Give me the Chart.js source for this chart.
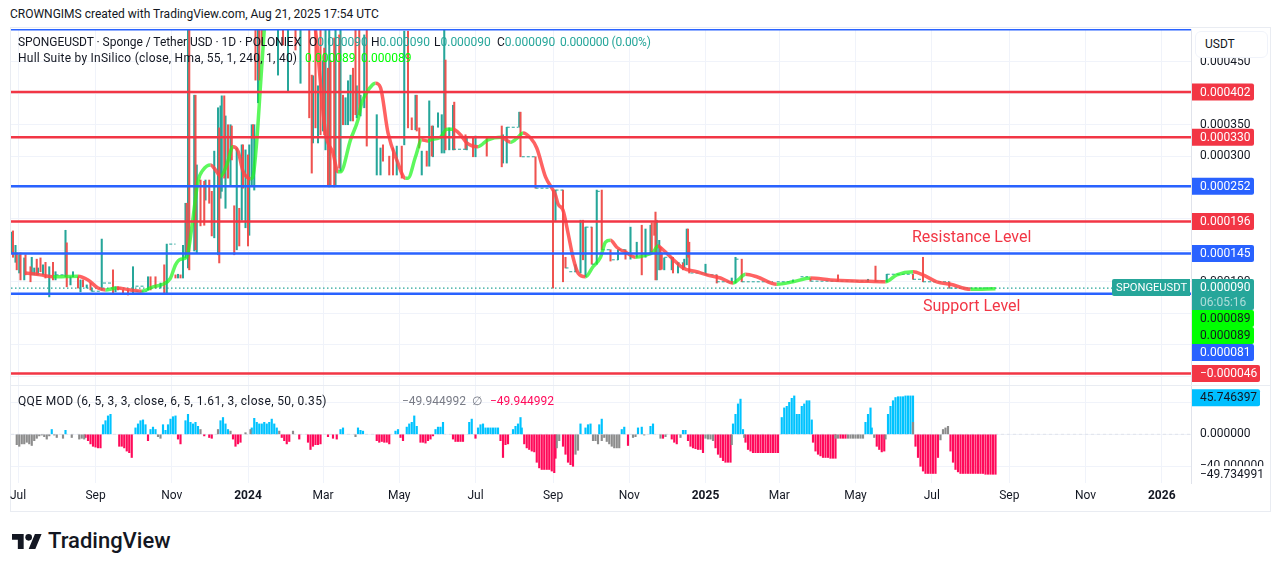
<!DOCTYPE html>
<html><head><meta charset="utf-8">
<style>
html,body{margin:0;padding:0;background:#fff;width:1281px;height:571px;overflow:hidden;font-family:Roboto,sans-serif;font-size:12px;color:#131722}
canvas{position:absolute;left:0}
.t{position:absolute;white-space:nowrap;line-height:14px}
.f{position:absolute;background:#e9ecf2}
.val{color:#26a69a}.lime{color:#00ff00}
.ann{color:#f23645;font-size:16px;line-height:18px}
#usdt{position:absolute;left:1195px;top:31px;width:71px;height:25px;background:#fff;border:1px solid #f0f3fa;border-radius:6px;line-height:25px;text-indent:9px}
</style></head><body>
<div class="f" style="left:10px;top:27px;width:1261px;height:1px"></div>
<div class="f" style="left:10px;top:511px;width:1261px;height:1px"></div>
<div class="f" style="left:10px;top:27px;width:1px;height:485px"></div>
<div class="f" style="left:1270px;top:27px;width:1px;height:485px"></div>
<div class="f" style="left:10px;top:385px;width:1261px;height:1px"></div>
<canvas id="priceCanvas" width="1281" height="358" style="top:27px"></canvas>
<canvas id="qqeCanvas" width="1281" height="128" style="top:384px"></canvas>
<div class="t" style="left:10px;top:7px">CROWNGIMS created with TradingView.com, Aug 21, 2025 17:54 UTC</div>
<div class="t" style="left:18px;top:35px;letter-spacing:-.04px">SPONGEUSDT · Sponge / Tether USD · 1D · POLONIEX</div>
<div class="t" style="left:309px;top:35px">O<span class="val">0.000090</span></div>
<div class="t" style="left:371px;top:35px">H<span class="val">0.000090</span></div>
<div class="t" style="left:434px;top:35px">L<span class="val">0.000090</span></div>
<div class="t" style="left:497px;top:35px">C<span class="val">0.000090</span></div>
<div class="t val" style="left:560px;top:35px;letter-spacing:-.2px">0.000000 (0.00%)</div>
<div class="t" style="left:18px;top:51px;letter-spacing:.24px">Hull Suite by InSilico (close, Hma, 55, 1, 240, 1, 40)</div>
<div class="t lime" style="left:305px;top:51px">0.000089</div>
<div class="t lime" style="left:361px;top:51px">0.000089</div>
<div class="t" style="left:18px;top:394px;letter-spacing:.36px">QQE MOD (6, 5, 3, 3, close, 6, 5, 1.61, 3, close, 50, 0.35)</div>
<div class="t" style="left:402px;top:394px;color:#787b86">−49.944992</div>
<div class="t" style="left:472px;top:394px;color:#787b86">∅</div>
<div class="t" style="left:490px;top:394px;color:#ff0a5a">−49.944992</div>
<div class="t ann" style="left:912px;top:228px">Resistance Level</div>
<div class="t ann" style="left:923px;top:297px">Support Level</div>
<div id="usdt">USDT</div>
<svg style="position:absolute;left:12px;top:534px" width="30" height="15" viewBox="0 4 36 18"><path fill="#131722" d="M14 22H7V11H0V4h14v18zM28 22h-8l7.5-18h8L28 22z"/><circle fill="#131722" cx="20" cy="8" r="4"/></svg>
<div class="t" style="left:48px;top:530px;font-size:22px;line-height:22px;font-weight:500;color:#131722">TradingView</div>
<script src="https://cdn.jsdelivr.net/npm/chart.js@4/dist/chart.umd.min.js"></script>
<script>
// Time axis: days since 1 Jul 2023. Prices are in millionths of USDT.
const tickDays   = [0,62,123,184,244,305,366,428,489,550,609,670,731,793,854,915];
const tickLabels = ['Jul','Sep','Nov','2024','Mar','May','Jul','Sep','Nov','2025','Mar','May','Jul','Sep','Nov','2026'];
const priceTicks = [450,400,350,300,250,200,150,100,50,0,-50];
const hiddenPriceLabels = [150];
const qqeTicks   = [40,0,-40];

const redLevels  = [402,330,196,-46];
const blueLevels = [252,145,81];
const topBlueLevel = 502;
const lastPrice = 90;
const hullLast = 89;

// [day, high, low]
const upCandles = [[-5,179,146],[-2,158,131],[1,143,114],[5,138,103],[11,139,111],[13,122,111],[16,122,111],[20,127,111],[25,124,76],[30,116,103],[38,182,108],[42,108,95],[44,116,108],[50,103,84],[55,95,90],[59,90,85],[67,168,87],[78,92,84],[92,124,82],[104,108,87],[114,98,90],[119,160,82],[128,112,106],[132,158,106],[134,225,138],[136,520,122],[141,397,149],[143,286,146],[150,262,230],[157,308,170],[160,377,143],[162,380,233],[163,396,244],[166,364,217],[170,350,252],[175,313,151],[179,318,198],[182,310,186],[185,318,174],[187,350,254],[189,350,246],[192,520,385],[208,520,429],[216,520,404],[226,520,416],[236,428,321],[240,412,321],[244,452,340],[246,520,310],[249,520,251],[254,520,254],[258,520,276],[262,393,350],[264,420,350],[266,429,356],[271,412,361],[274,397,364],[277,493,377],[287,366,270],[290,313,270],[303,316,270],[309,499,318],[318,397,342],[323,308,270],[329,388,284],[332,348,299],[336,369,346],[339,366,305],[341,520,305],[345,345,310],[348,381,310],[359,330,310],[366,332,299],[388,334,289],[391,346,289],[401,370,346],[430,246,197],[446,127,116],[450,198,114],[454,187,108],[463,246,128],[480,151,135],[490,187,136],[495,163,139],[502,184,139],[506,190,143],[511,198,103],[513,166,119],[517,138,119],[523,139,119],[528,130,114],[533,136,122],[535,184,127],[550,128,112],[571,106,98],[574,139,98],[620,103,100],[680,104,100],[695,112,100]];
const downCandles = [[-4,181,139],[-1,146,119],[2,146,103],[6,143,111],[10,124,100],[15,136,111],[18,138,116],[22,131,106],[28,131,103],[39,162,92],[48,108,90],[52,103,92],[58,98,87],[76,119,82],[80,92,87],[84,87,82],[88,87,79],[106,108,87],[110,108,90],[117,127,80],[126,111,106],[130,111,106],[135,225,143],[137,520,119],[142,397,151],[146,262,189],[149,260,190],[153,262,225],[155,244,173],[161,345,130],[165,396,265],[168,350,265],[171,348,294],[173,221,143],[177,217,157],[180,318,249],[184,302,157],[188,350,329],[190,520,421],[193,520,421],[195,520,477],[212,520,477],[222,520,469],[233,520,361],[235,429,273],[238,520,345],[242,520,334],[245,472,334],[248,440,252],[250,452,254],[253,488,251],[257,493,281],[260,397,350],[268,440,356],[270,520,366],[273,520,366],[279,520,316],[292,318,292],[297,300,270],[300,313,270],[307,316,265],[312,499,345],[315,361,342],[319,397,340],[321,345,313],[327,308,284],[331,348,300],[342,453,310],[349,386,310],[358,334,311],[364,330,299],[375,329,300],[387,348,283],[402,370,299],[414,299,249],[428,246,90],[436,246,100],[438,139,122],[452,198,135],[459,187,128],[467,246,151],[474,151,133],[486,151,136],[499,190,111],[507,194,147],[509,194,174],[510,211,103],[514,155,119],[515,146,120],[524,139,114],[532,130,119],[536,184,139],[537,163,114],[559,111,98],[579,136,100],[634,106,101],[656,111,101],[686,125,100],[716,112,104],[724,139,100],[745,100,90]];
// flat stretches of near-doji candles: [first day, last day, level]
const flatRuns = [[30,38,111],[59,67,85],[68,75,98],[94,102,93],[94,103,85],[121,126,160],[348,359,311],[367,387,330],[391,400,346],[403,414,299],[414,426,249],[430,436,246],[438,441,122],[441,447,116],[454,459,187],[459,463,128],[463,467,244],[467,474,151],[475,480,135],[480,486,151],[517,523,139],[527,532,130],[538,550,114],[550,559,111],[559,572,100],[574,578,136],[579,604,100],[607,620,100],[626,632,108],[634,650,101],[650,680,101],[686,695,101],[695,716,112],[716,724,104],[724,745,100],[745,782,90]];

const hullDays = [6,18,28,48,56,64,70,79,90,99,108,116,122,126,130,135,139,144,148,154,158,162,167,172,176,180,186,188,191,194,197,202,218,230,238,246,252,256,258,266,272,275,282,286,290,296,303,310,312,318,323,328,330,338,343,348,354,359,368,376,387,394,400,404,410,415,422,430,432,436,440,444,448,454,460,466,470,474,479,487,494,503,508,512,516,524,532,543,551,562,572,576,582,591,607,620,634,650,676,694,703,716,724,735,746,762,782];
const hullValues = [114,111,108,109,103,90,87,90,87,85,92,96,106,127,136,139,186,260,278,286,278,268,286,315,308,276,264,268,324,413,501,628,692,596,501,337,305,275,275,326,358,385,410,416,409,337,294,265,265,299,326,324,326,330,343,343,334,321,315,326,330,322,330,337,329,313,267,238,224,214,178,139,114,108,124,139,163,166,155,146,139,143,147,157,151,136,122,116,111,106,98,103,112,108,96,100,106,103,101,100,111,116,111,100,96,88,89];

// QQE histogram: [start day, values every second day]
const qqeGrey = [[-1,[-13,-15,-12,-12,-10,-12,-14,-8,-5,-2,-1,-3,-6,-2]],[29,[-1,-4]],[36,[-5]],[43,[-4]],[49,[-6,-5,-6]],[112,[-3,-5]],[146,[6]],[160,[6]],[170,[4]],[182,[2]],[186,[6]],[209,[4]],[220,[4]],[270,[-3]],[431,[-17,-8]],[446,[-25,-20]],[460,[-8,-8,-12]],[467,[-8]],[469,[-4,-9,-12,-15,-17,-17,-17]],[492,[-4,-3]],[501,[-1]],[514,[-5]],[518,[-3]],[530,[-4]],[550,[-5,-6,-6,-8]],[571,[-13]],[581,[-4]],[654,[-5,-5]],[664,[-5,-5,-5,-5,-5,-5,-5]],[685,[-4]],[694,[-6]],[716,[15]],[738,[-7]],[740,[6,8,10]]];
const qqeRed = [[54,[-4,-8,-12,-15,-16,-17,-17]],[81,[-15,-15,-17,-21,-23,-29]],[104,[-8]],[128,[-6,-12]],[149,[-2]],[153,[-4,-5]],[172,[-6,-15,-12,-10]],[211,[-4,-8,-12,-9]],[225,[-6]],[232,[-10,-19,-15,-13,-13,-12]],[248,[-3]],[252,[-5]],[255,[-6]],[287,[-8,-10,-9,-10,-10,-12]],[306,[-4,-8]],[322,[-10,-10,-11,-8,-6]],[332,[-2]],[348,[-6,-9,-9,-9,-9]],[366,[-5]],[386,[-8,-29,-13,-12]],[405,[-12,-17,-19,-21,-22,-35,-42,-44,-44,-44,-44,-46,-48]],[430,[-30]],[436,[-15,-25,-35,-38,-40]],[488,[-14]],[516,[-5]],[523,[-6,-10,-12]],[536,[-8,-15,-17,-18,-19,-19,-23]],[558,[-17,-25,-29,-33,-35,-35,-35]],[582,[-10,-19,-21,-23,-23,-23,-23,-23,-23,-23,-23,-23,-23,-23]],[636,[-10,-21,-25,-27,-29,-29,-29,-30,-30,-30]],[658,[-5,-5,-5]],[687,[-15,-19,-22,-21]],[718,[-15,-29,-40,-46,-49,-49,-49,-49,-49,-29]],[746,[-21,-35,-44,-47,-49,-49,-49,-49,-49,-49,-49,-49,-49,-49,-50,-50,-50,-50,-50]]];
const qqeBlue = [[27,[6]],[38,[5]],[68,[12,17,23,25]],[94,[8,13,17,18,12]],[106,[6,9,6]],[116,[12,5,12,19,22,23]],[134,[17,25,15,13,15,10]],[162,[17,21,13,6]],[187,[8,20,15,13,13,15,13,15,19,13,8]],[258,[6,8]],[272,[8,5,4]],[302,[4,6]],[311,[9,13,15,23,10]],[334,[6,9,9,15]],[361,[15,19]],[368,[8,12,13,8,8,8,8,8,8]],[396,[6,10,13,21]],[403,[8]],[450,[13]],[454,[8,12,13]],[465,[12,19]],[483,[6,9]],[496,[8]],[499,[9]],[506,[10,13]],[532,[5,5]],[572,[13,25,38,44]],[580,[6]],[611,[21,33,35,40,45,48,25,25,35,38,42,42,18]],[678,[15,25,33]],[683,[8]],[696,[25,35,42,46,47,47,47,48,48,48,48]]];
const qqeHist = 45.746397, qqeSignal = -49.734991;

const GREEN='#26a69a', RED='#ef5350', LEVEL_RED='#f23645', LEVEL_BLUE='#2962ff';
const GRID='#f0f3fa', FONT='Roboto, sans-serif';
const X_MIN=-5.6, X_MAX=938.4;

function candleBars(rows,color){
  return {type:'bar',order:6,backgroundColor:color,barThickness:1.4,grouped:false,
    data:rows.map(r=>({x:r[0],y:[r[2],r[1]]}))};
}
function hLine(v,color,width,dash,order){
  return {type:'line',order:order,borderColor:color,borderWidth:width,borderDash:dash||[],pointRadius:0,
    data:[{x:X_MIN,y:v},{x:X_MAX,y:v}]};
}
function qqeBars(runs,color){
  const pts=[];
  runs.forEach(r=>r[1].forEach((v,i)=>pts.push({x:r[0]+i*2,y:v})));
  return {type:'bar',backgroundColor:color,barThickness:1.5,grouped:false,data:pts};
}
function flatData(){
  const pts=[];
  flatRuns.forEach(r=>{pts.push({x:r[0],y:r[2]},{x:r[1],y:r[2]},{x:r[1],y:null});});
  return pts;
}
function pill(ctx,text,y,bg,fg,w){
  ctx.fillStyle=bg;
  ctx.beginPath();ctx.roundRect(1192,y-8.5,w||62,17,[0,2,2,0]);ctx.fill();
  ctx.fillStyle=fg;ctx.font='12px '+FONT;ctx.textAlign='left';ctx.textBaseline='middle';
  ctx.fillText(text,1200,y+.5);
}
const fmtPrice=v=>(v<0?'−':'')+(Math.abs(v)/1e6).toFixed(6);
const fmtQqe=v=>(v<0?'−':'')+Math.abs(v).toFixed(6);

const pricePills={id:'pricePills',afterDraw(c){
  const ctx=c.ctx,y=c.scales.y;ctx.save();
  redLevels.forEach(v=>pill(ctx,fmtPrice(v),y.getPixelForValue(v),LEVEL_RED,'#fff',v<0?68:62));
  blueLevels.filter(v=>v!==81).forEach(v=>pill(ctx,fmtPrice(v),y.getPixelForValue(v),LEVEL_BLUE,'#fff',62));
  const py=y.getPixelForValue(lastPrice);
  // symbol tag + price / countdown
  ctx.fillStyle=GREEN;
  ctx.beginPath();ctx.roundRect(1112,py-9,78,17,[2,0,0,2]);ctx.fill();
  ctx.beginPath();ctx.roundRect(1192,py-9,62,31,[0,2,2,0]);ctx.fill();
  ctx.fillStyle='#fff';ctx.font='11.2px '+FONT;ctx.textAlign='left';ctx.textBaseline='middle';
  ctx.fillText('SPONGEUSDT',1116,py);
  ctx.font='12px '+FONT;
  ctx.fillText(fmtPrice(lastPrice),1200,py);
  ctx.fillStyle='rgba(255,255,255,.62)';
  ctx.fillText('06:05:16',1200,py+14.5);
  // stacked labels pushed below the price tag
  pill(ctx,fmtPrice(hullLast),py+30.5,'#00ff00','#131722',62);
  pill(ctx,fmtPrice(hullLast),py+47.5,'#00ff00','#131722',62);
  pill(ctx,fmtPrice(81),py+64.5,LEVEL_BLUE,'#fff',62);
  ctx.restore();
}};
const qqePills={id:'qqePills',afterDraw(c){
  const ctx=c.ctx,y=c.scales.y;ctx.save();
  pill(ctx,fmtQqe(qqeHist),y.getPixelForValue(qqeHist),'#00bfff','#131722',68);
  const py=y.getPixelForValue(qqeSignal);
  ctx.fillStyle='#fff';ctx.fillRect(1192,py-8,76,17);
  ctx.fillStyle='#131722';ctx.font='12px '+FONT;ctx.textAlign='left';ctx.textBaseline='middle';
  ctx.fillText(fmtQqe(qqeSignal),1200,py+.5);
  ctx.restore();
}};
function noPad(s){s.paddingTop=0;s.paddingBottom=0;s.paddingLeft=0;s.paddingRight=0;}
function xScale(showLabels){
  return {type:'linear',min:X_MIN,max:X_MAX,offset:false,
    afterBuildTicks:s=>{s.ticks=tickDays.map(v=>({value:v}));},
    afterFit:s=>{s.height=showLabels?29:0;noPad(s);},
    grid:{color:GRID,drawTicks:false,offset:false},
    border:{display:false},
    ticks:{display:showLabels,autoSkip:false,maxRotation:0,padding:6,color:'#131722',
      font:ctx=>({family:FONT,size:12,weight:/^\d{4}$/.test(tickLabels[tickDays.indexOf(ctx.tick&&ctx.tick.value)]||'')?'bold':'normal'}),
      callback:v=>tickLabels[tickDays.indexOf(v)]||''}};
}
function yScale(min,max,vals,fmt){
  return {position:'right',min:min,max:max,
    afterBuildTicks:s=>{s.ticks=vals.map(v=>({value:v}));},
    afterFit:s=>{s.width=90;noPad(s);},
    grid:{color:GRID,drawTicks:false},
    border:{display:true,color:'#e0e3eb'},
    ticks:{padding:9,color:'#131722',font:{family:FONT,size:12},callback:fmt,autoSkip:false}};
}
const baseOpts={responsive:false,animation:false,events:[],
  plugins:{legend:{display:false},tooltip:{enabled:false}}};

new Chart(document.getElementById('priceCanvas'),{
  type:'bar',
  data:{datasets:[
    candleBars(downCandles,RED),
    candleBars(upCandles,GREEN),
    {type:'line',order:5,borderColor:GREEN,borderWidth:1,borderDash:[3,2],pointRadius:0,spanGaps:false,data:flatData()},
    hLine(lastPrice,GREEN,1.2,[1.5,2.5],4),
    {type:'line',order:3,borderWidth:3.5,pointRadius:0,cubicInterpolationMode:'monotone',borderColor:'rgba(255,70,70,.85)',
      data:hullDays.map((d,i)=>({x:d,y:hullValues[i]})),
      segment:{borderColor:c=>c.p1.parsed.y>=c.p0.parsed.y?'rgba(30,245,30,.72)':'rgba(255,70,70,.85)'}},
    ...redLevels.map(v=>hLine(v,LEVEL_RED,2.5,null,2)),
    ...blueLevels.map(v=>hLine(v,LEVEL_BLUE,2.5,null,2)),
    hLine(topBlueLevel,LEVEL_BLUE,2.5,null,2)
  ]},
  options:{...baseOpts,layout:{autoPadding:false,padding:{left:11,top:2,right:0,bottom:0}},
    scales:{x:xScale(false),y:yScale(-64.3,502.4,priceTicks,v=>hiddenPriceLabels.includes(v)?'':fmtPrice(v))}},
  plugins:[pricePills]
});
new Chart(document.getElementById('qqeCanvas'),{
  type:'bar',
  data:{datasets:[
    qqeBars(qqeGrey,'#8c8c8c'),
    qqeBars(qqeRed,'#ff0a5a'),
    qqeBars(qqeBlue,'#00c3ff'),
    hLine(0,'#e0e3eb',1,[3,3],9)
  ]},
  options:{...baseOpts,layout:{autoPadding:false,padding:{left:11,top:2,right:0,bottom:0}},
    scales:{x:xScale(true),y:yScale(-60.9,60.4,qqeTicks,v=>fmtQqe(v))}},
  plugins:[qqePills]
});
</script>
</body></html>
